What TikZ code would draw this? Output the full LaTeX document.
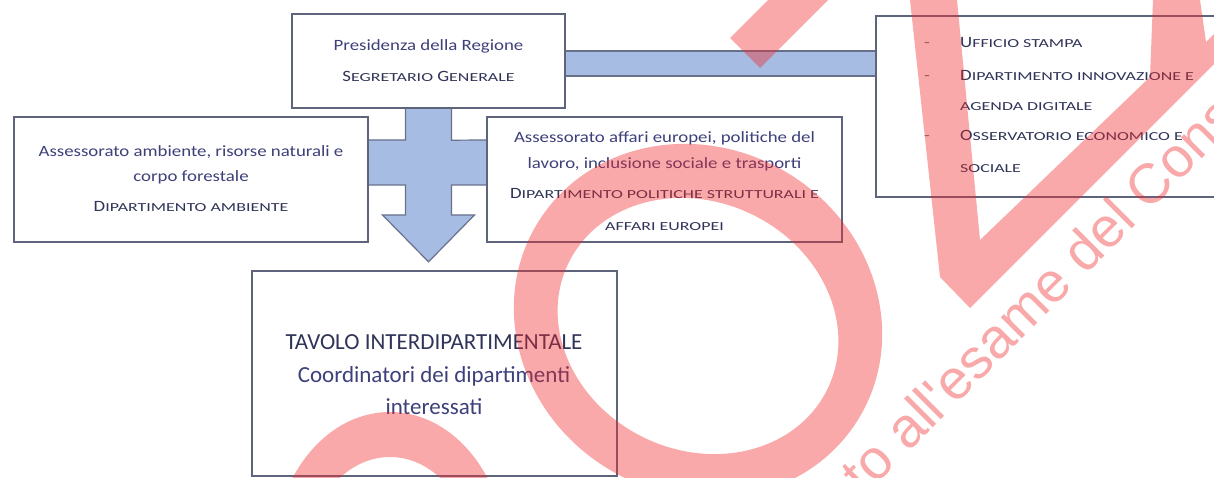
\documentclass[tikz,border=0pt]{standalone}
\usepackage{fontspec}
\usepackage{graphicx}
\setmainfont{Carlito}
\newfontfamily\boxf{Carlito}[FakeStretch=1.2]
\newfontfamily\wmf{Liberation Sans}
\usetikzlibrary{calc}
\definecolor{boxline}{RGB}{95,100,125}
\definecolor{txtc}{RGB}{62,64,122}
\definecolor{scc}{RGB}{48,52,88}
\definecolor{barfill}{RGB}{166,188,226}
\definecolor{barline}{RGB}{105,112,140}
\definecolor{dashc}{RGB}{120,120,135}
\definecolor{wmred}{RGB}{240,40,40}
\newcommand\fsc[1]{\scalebox{0.95}[0.78]{#1}}
\begin{document}
\begin{tikzpicture}[x=1pt,y=-1pt,
  box/.style={draw=boxline, line width=1.4pt, fill=white, inner sep=0pt},
  txt/.style={anchor=base, inner sep=0pt, font={\boxf\fontsize{15.7}{18}\selectfont}, text=txtc},
  sctxt/.style={txt, text=scc},
  ltxt/.style={txt, anchor=base west},
  lsc/.style={sctxt, anchor=base west},
  dashnode/.style={txt, text=dashc},
  bigtxt/.style={anchor=base, inner sep=0pt, font={\fontsize{23}{26}\selectfont}, text=txtc},
  blockarrow/.style={fill=barfill, draw=barline, line width=1.2pt, line join=miter},
  wmshape/.style={fill=wmred, fill opacity=0.4},
  wmtext/.style={inner sep=0pt, font={\wmf\fontsize{56}{60}\selectfont}, text=wmred, text opacity=0.4}]
\useasboundingbox (0,0) rectangle (1214,478);
\clip (0,0) rectangle (1214,478);
\fill[white] (0,0) rectangle (1214,478);

% box nodes (positions only, drawn later on top of the connectors)
\path
  (428.5,61) node[minimum width=273, minimum height=94, inner sep=0pt] (top) {}
  (191,179.5) node[minimum width=354, minimum height=125, inner sep=0pt] (left) {}
  (664.5,179.5) node[minimum width=355, minimum height=125, inner sep=0pt] (mid) {}
  (1051,106.5) node[minimum width=350, minimum height=181, inner sep=0pt] (right) {}
  (434.5,373.5) node[minimum width=365, minimum height=205, inner sep=0pt] (bot) {};

% connectors
\path[blockarrow] (top.east |- 0,51) rectangle (right.west |- 0,76);
\path[blockarrow] ($(top.south)+(-23,0)$) -- ++(46,0) -- ++(0,32)
  -- (mid.west |- 0,140) -- (mid.west |- 0,185) -- ($(top.south |- 0,185)+(23,0)$)
  -- ($(top.south |- 0,215)+(23,0)$) -- ($(top.south |- 0,215)+(46,0)$)
  -- ($(bot.north)+(-6,-9)$)
  -- ($(top.south |- 0,215)+(-46,0)$) -- ($(top.south |- 0,215)+(-23,0)$)
  -- ($(top.south |- 0,185)+(-23,0)$) -- (left.east |- 0,185) -- (left.east |- 0,140)
  -- ($(top.south |- 0,140)+(-23,0)$) -- cycle;

% boxes
\node[box, minimum width=273, minimum height=94] at (top) {};
\node[box, minimum width=354, minimum height=125] at (left) {};
\node[box, minimum width=355, minimum height=125] at (mid) {};
\node[box, minimum width=350, minimum height=181] at (right) {};
\node[box, minimum width=365, minimum height=205] at (bot) {};

% texts
\node[txt] (t1) at (428.5,51) {Presidenza della Regione};
\node[sctxt] (t2) at (428.5,81.5) {S\fsc{EGRETARIO} G\fsc{ENERALE}};

\node[txt] (l1) at (191,157) {Assessorato ambiente, risorse naturali e};
\node[txt] (l2) at (191,182) {corpo forestale};
\node[sctxt] (l3) at (191,212) {D\fsc{IPARTIMENTO AMBIENTE}};

\node[txt] (m1) at (664.5,143) {Assessorato affari europei, politiche del};
\node[txt] (m2) at (664.5,169) {lavoro, inclusione sociale e trasporti};
\node[sctxt] (m3) at (664.5,199) {D\fsc{IPARTIMENTO POLITICHE STRUTTURALI E}};
\node[sctxt] (m4) at (664.5,231) {\fsc{AFFARI EUROPEI}};

\node[dashnode] (d1) at (927,48) {-};
\node[dashnode] (d2) at (927,81) {-};
\node[dashnode] (d3) at (927,141) {-};
\node[lsc] (r1) at (960,48) {U\fsc{FFICIO STAMPA}};
\node[lsc] (r2) at (960,81) {D\fsc{IPARTIMENTO INNOVAZIONE E}};
\node[lsc] (r3) at (960,111) {\fsc{AGENDA DIGITALE}};
\node[lsc] (r4) at (960,141) {O\fsc{SSERVATORIO ECONOMICO E}};
\node[lsc] (r5) at (960,173) {\fsc{SOCIALE}};

\node[bigtxt, text=scc] (b1) at (434,349) {TAVOLO INTERDIPARTIMENTALE};
\node[bigtxt] (b2) at (434,382) {Coordinatori dei dipartimenti};
\node[bigtxt] (b3) at (434,414) {interessati};

% watermark
\path[wmshape] (730,38) -- (760,68) -- (828,0) -- (768,0) -- cycle;
\path[wmshape] (910,0) -- (940,277) -- (970,308) -- (1214,64) -- (1214,34) -- (1206,42)
  -- (1200,0) -- (1153,0) -- (1150,77) -- (980,240) -- (957,0) -- cycle;
\path[wmshape, even odd rule] (698,321) circle[x radius=188, y radius=173, rotate=-31]
  (698,326) circle[x radius=144, y radius=124, rotate=-26];
\path[wmshape, even odd rule] (390,560) circle[x radius=117, y radius=148]
  (390,560) circle[x radius=83, y radius=103];
\node[wmtext, rotate=45, anchor=base west] (wm) at (864,497) {to all\textquotesingle esame del Consi};
\end{tikzpicture}
\end{document}
